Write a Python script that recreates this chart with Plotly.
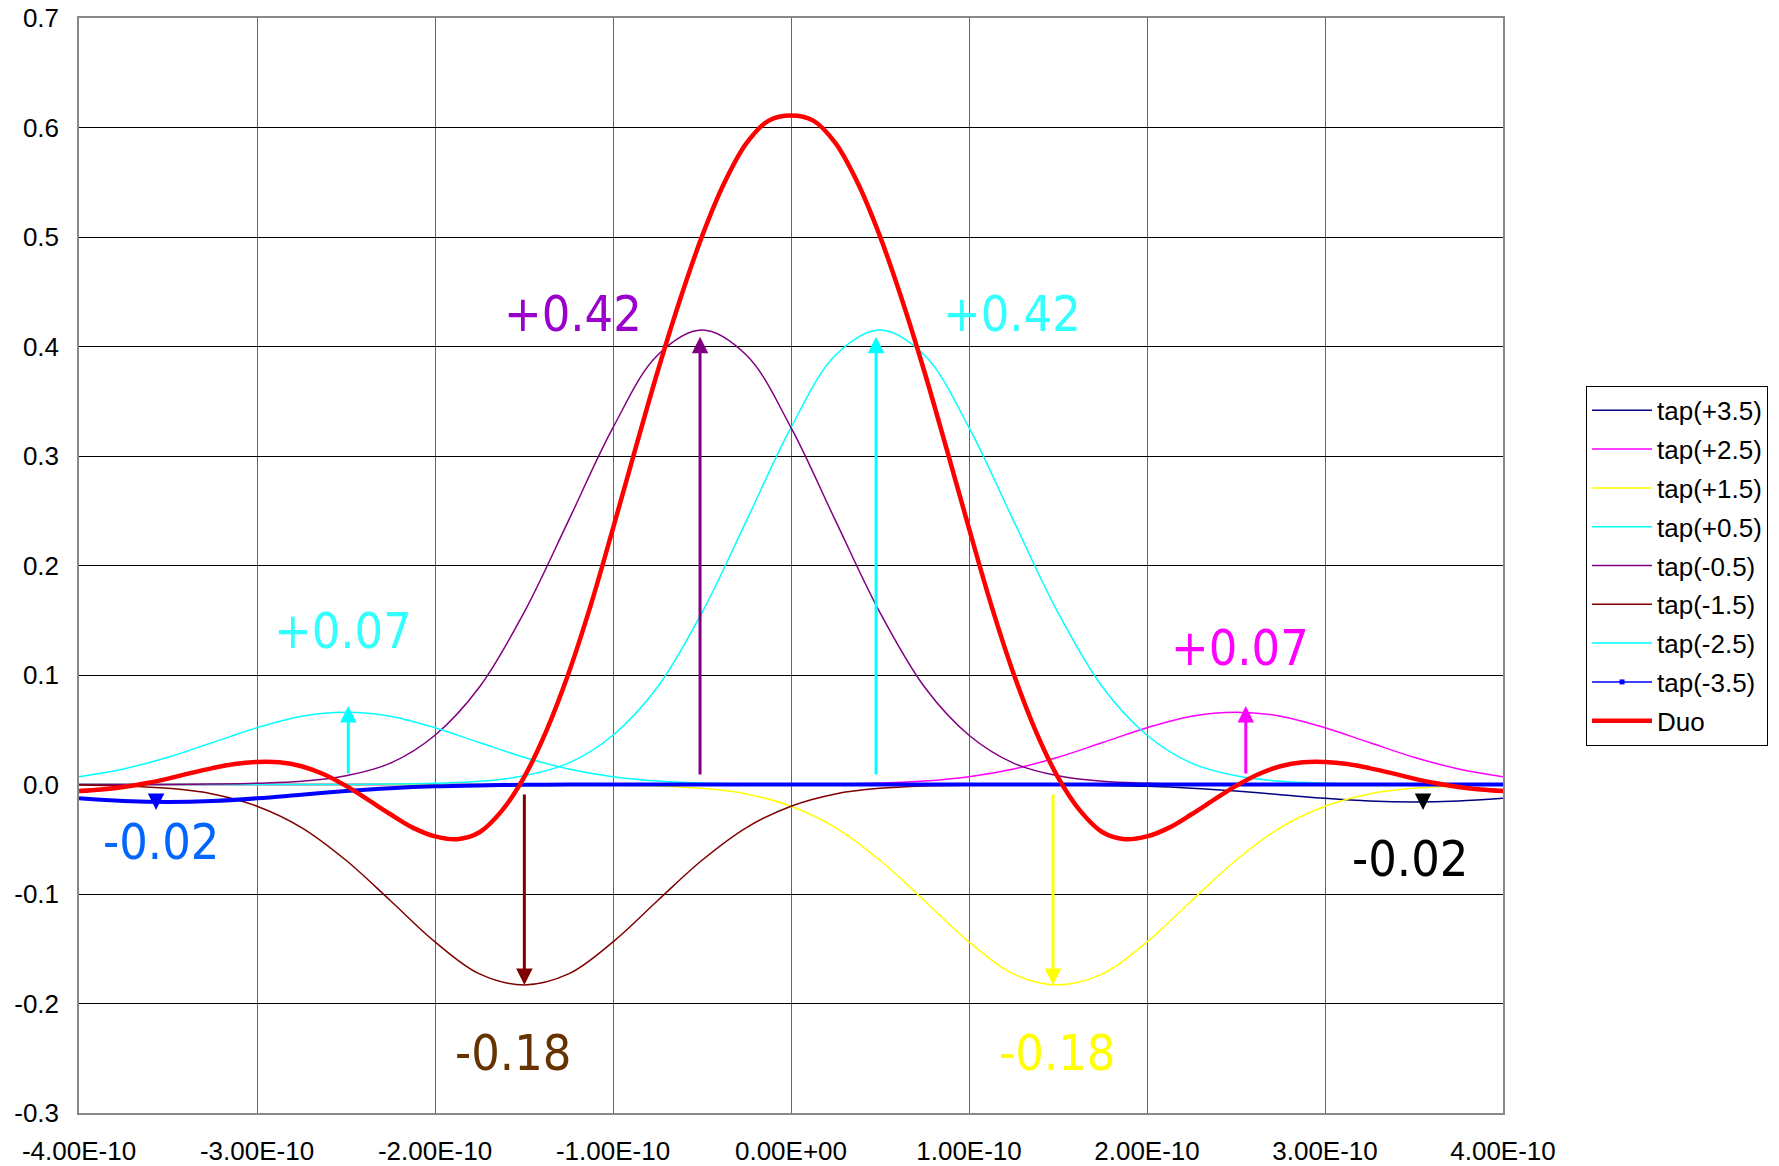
import plotly.graph_objects as go

# ---- data ----
time_s = [-4.00e-10, -3.75e-10, -3.50e-10, -3.25e-10, -3.00e-10, -2.75e-10, -2.50e-10, -2.25e-10,
          -2.00e-10, -1.75e-10, -1.50e-10, -1.25e-10, -1.00e-10, -0.75e-10, -0.50e-10, -0.25e-10,
          0.00e+00, 0.25e-10, 0.50e-10, 0.75e-10, 1.00e-10, 1.25e-10, 1.50e-10, 1.75e-10,
          2.00e-10, 2.25e-10, 2.50e-10, 2.75e-10, 3.00e-10, 3.25e-10, 3.50e-10, 3.75e-10, 4.00e-10]

tap_p35 = [0, 0, 0, 0, 0, 0, 0, 0, 0, 0, 0, 0, 0, 0, 0, 0, 0, 0, 0, 0, 0,
           -0.0001, -0.0003, -0.0008, -0.0017, -0.0034, -0.006, -0.0093, -0.0126, -0.0151, -0.016, -0.0151, -0.0126]
tap_p25 = [0, 0, 0, 0, 0, 0, 0, 0, 0, 0, 0, 0, 0, 0, 0,
           0.0001, 0.0002, 0.0005, 0.0013, 0.0031, 0.0071, 0.0142, 0.0249, 0.0383, 0.0518, 0.0624, 0.066,
           0.0624, 0.0518, 0.0383, 0.0249, 0.0142, 0.0071]
tap_p15 = [0, 0, 0, 0, 0, 0, 0, 0, 0, 0, 0,
           -0.0002, -0.0005, -0.0013, -0.0035, -0.0086, -0.0198, -0.0393, -0.0692, -0.1061, -0.1437, -0.173, -0.183,
           -0.173, -0.1437, -0.1061, -0.0692, -0.0393, -0.0198, -0.0086, -0.0035, -0.0013, -0.0005]
tap_p05 = [0, 0, 0, 0, 0, 0, 0,
           0.0004, 0.0012, 0.0029, 0.0079, 0.0195, 0.045, 0.089, 0.157, 0.241, 0.326, 0.392, 0.415,
           0.392, 0.326, 0.241, 0.157, 0.089, 0.045, 0.0195, 0.0079, 0.0029, 0.0012, 0.0004, 0, 0, 0]
tap_m05 = [0, 0, 0, 0.0004, 0.0012, 0.0029, 0.0079, 0.0195, 0.045, 0.089, 0.157, 0.241, 0.326, 0.392, 0.415,
           0.392, 0.326, 0.241, 0.157, 0.089, 0.045, 0.0195, 0.0079, 0.0029, 0.0012, 0.0004, 0, 0, 0, 0, 0, 0, 0]
tap_m15 = [-0.0005, -0.0013, -0.0035, -0.0086, -0.0198, -0.0393, -0.0692, -0.1061, -0.1437, -0.173, -0.183,
           -0.173, -0.1437, -0.1061, -0.0692, -0.0393, -0.0198, -0.0086, -0.0035, -0.0013, -0.0005, -0.0002,
           0, 0, 0, 0, 0, 0, 0, 0, 0, 0, 0]
tap_m25 = [0.0071, 0.0142, 0.0249, 0.0383, 0.0518, 0.0624, 0.066, 0.0624, 0.0518, 0.0383, 0.0249, 0.0142,
           0.0071, 0.0031, 0.0013, 0.0005, 0.0002, 0.0001, 0, 0, 0, 0, 0, 0, 0, 0, 0, 0, 0, 0, 0, 0, 0]
tap_m35 = [-0.0126, -0.0151, -0.016, -0.0151, -0.0126, -0.0093, -0.006, -0.0034, -0.0017, -0.0008, -0.0003,
           -0.0001, 0, 0, 0, 0, 0, 0, 0, 0, 0, 0, 0, 0, 0, 0, 0, 0, 0, 0, 0, 0, 0]

# Duo is read on a finer time grid
duo_time = [-4.000e-10, -3.875e-10, -3.750e-10, -3.625e-10, -3.500e-10, -3.375e-10, -3.250e-10, -3.125e-10,
            -3.000e-10, -2.875e-10, -2.750e-10, -2.625e-10, -2.500e-10, -2.375e-10, -2.250e-10, -2.125e-10,
            -2.000e-10, -1.875e-10, -1.750e-10, -1.625e-10, -1.500e-10, -1.375e-10, -1.250e-10, -1.125e-10,
            -1.000e-10, -0.875e-10, -0.750e-10, -0.625e-10, -0.500e-10, -0.375e-10, -0.250e-10, -0.125e-10,
            0.000e+00,
            0.125e-10, 0.250e-10, 0.375e-10, 0.500e-10, 0.625e-10, 0.750e-10, 0.875e-10, 1.000e-10,
            1.125e-10, 1.250e-10, 1.375e-10, 1.500e-10, 1.625e-10, 1.750e-10, 1.875e-10, 2.000e-10,
            2.125e-10, 2.250e-10, 2.375e-10, 2.500e-10, 2.625e-10, 2.750e-10, 2.875e-10, 3.000e-10,
            3.125e-10, 3.250e-10, 3.375e-10, 3.500e-10, 3.625e-10, 3.750e-10, 3.875e-10, 4.000e-10]
duo = [-0.006, -0.0046, -0.0022, 0.0011, 0.0054, 0.0104, 0.015, 0.0188,
       0.0206, 0.0203, 0.0167, 0.0094, -0.0013, -0.0141, -0.0272, -0.0394,
       -0.0474, -0.0499, -0.0436, -0.0241, 0.0065, 0.0488, 0.1014, 0.1638,
       0.2339, 0.3061, 0.3767, 0.442, 0.5006, 0.5493, 0.5857, 0.6063,
       0.611,
       0.6063, 0.5857, 0.5493, 0.5006, 0.442, 0.3767, 0.3061, 0.2339,
       0.1638, 0.1014, 0.0488, 0.0065, -0.0241, -0.0436, -0.0499, -0.0474,
       -0.0394, -0.0272, -0.0141, -0.0013, 0.0094, 0.0167, 0.0203, 0.0206,
       0.0188, 0.015, 0.0104, 0.0054, 0.0011, -0.0022, -0.0046, -0.006]

x_tick_vals = [-4e-10, -3e-10, -2e-10, -1e-10, 0.0, 1e-10, 2e-10, 3e-10, 4e-10]
x_tick_text = ["-4.00E-10", "-3.00E-10", "-2.00E-10", "-1.00E-10", "0.00E+00",
               "1.00E-10", "2.00E-10", "3.00E-10", "4.00E-10"]
y_tick_vals = [-0.3, -0.2, -0.1, 0.0, 0.1, 0.2, 0.3, 0.4, 0.5, 0.6, 0.7]
y_tick_text = ["-0.3", "-0.2", "-0.1", "0.0", "0.1", "0.2", "0.3", "0.4", "0.5", "0.6", "0.7"]

# value labels: text, x, y, colour
label_text = ["+0.42", "+0.42", "+0.07", "+0.07", "-0.02", "-0.02", "-0.18", "-0.18"]
label_x = [-1.225e-10, 1.242e-10, -2.517e-10, 2.522e-10, -3.539e-10, 3.478e-10, -1.562e-10, 1.494e-10]
label_y = [0.430, 0.430, 0.140, 0.125, -0.0525, -0.068, -0.245, -0.245]
label_color = ["#9900CC", "#33FFFF", "#33FFFF", "#FF00FF", "#0066FF", "#000000", "#663300", "#FFFF00"]

# arrows: x, tail y, tip y, colour
arrow_x = [-0.511e-10, 0.478e-10, -2.487e-10, 2.555e-10, -1.498e-10, 1.472e-10, -3.567e-10, 3.551e-10]
arrow_y0 = [0.0078, 0.0078, 0.0087, 0.0087, -0.0078, -0.0078, -0.0078, -0.0078]
arrow_y1 = [0.409, 0.409, 0.0717, 0.0717, -0.183, -0.183, -0.0233, -0.0233]
arrow_color = ["#800080", "#00FFFF", "#00FFFF", "#FF00FF", "#800000", "#FFFF00", "#0000FF", "#000000"]

series = [
    ("tap(+3.5)", tap_p35, "#000080", 1.5),
    ("tap(+2.5)", tap_p25, "#FF00FF", 1.5),
    ("tap(+1.5)", tap_p15, "#FFFF00", 1.5),
    ("tap(+0.5)", tap_p05, "#00FFFF", 1.5),
    ("tap(-0.5)", tap_m05, "#800080", 1.5),
    ("tap(-1.5)", tap_m15, "#800000", 1.5),
    ("tap(-2.5)", tap_m25, "#00FFFF", 1.5),
]

fig = go.Figure()
for name, vals, color, w in series:
    fig.add_trace(go.Scatter(x=time_s, y=vals, mode="lines", name=name, legendgroup=name,
                             line=dict(color=color, width=w, shape="spline")))
fig.add_trace(go.Scatter(x=time_s, y=tap_m35, mode="lines", name="tap(-3.5)", showlegend=False,
                         legendgroup="tap(-3.5)",
                         line=dict(color="#0000FF", width=4, shape="spline")))
fig.add_trace(go.Scatter(x=[None], y=[None], mode="lines+markers", name="tap(-3.5)",
                         legendgroup="tap(-3.5)",
                         line=dict(color="#0000FF", width=1.5),
                         marker=dict(symbol="square", size=5, color="#0000FF")))
fig.add_trace(go.Scatter(x=duo_time, y=duo, mode="lines", name="Duo", legendgroup="Duo",
                         line=dict(color="#FF0000", width=4.5, shape="spline")))

label_font = "DejaVu Sans Condensed, Liberation Sans Narrow, Arial Narrow, sans-serif"
annotations = []
for t, x, y, c in zip(label_text, label_x, label_y, label_color):
    annotations.append(dict(text=t, x=x, y=y, xref="x", yref="y", showarrow=False,
                            font=dict(family=label_font, size=50, color=c)))
for x, y0, y1, c in zip(arrow_x, arrow_y0, arrow_y1, arrow_color):
    annotations.append(dict(text="", x=x, y=y1, ax=x, ay=y0, xref="x", yref="y", axref="x", ayref="y",
                            showarrow=True, arrowhead=2, arrowsize=1.1, arrowwidth=3, arrowcolor=c,
                            standoff=0, startstandoff=0))

fig.update_layout(
    width=1779, height=1166,
    margin=dict(l=79, r=276, t=18, b=53, pad=0, autoexpand=False),
    paper_bgcolor="white", plot_bgcolor="white",
    font=dict(family="Liberation Sans, Arial, sans-serif", size=26, color="black"),
    showlegend=True,
    legend=dict(x=1.0583, y=0.664, xanchor="left", yanchor="top",
                bgcolor="white", bordercolor="#000000", borderwidth=1,
                font=dict(size=26), itemwidth=60, tracegroupgap=2, traceorder="grouped"),
    annotations=annotations,
)
fig.update_xaxes(range=[-4e-10, 4e-10], tickmode="array", tickvals=x_tick_vals, ticktext=x_tick_text,
                 showgrid=True, gridcolor="#666666", gridwidth=1, zeroline=False, automargin=False,
                 showline=True, linecolor="#888888", linewidth=1.5, mirror=True, ticks="",
                 ticklabelstandoff=14)
fig.update_yaxes(range=[-0.3, 0.7], tickmode="array", tickvals=y_tick_vals, ticktext=y_tick_text,
                 showgrid=True, gridcolor="#000000", gridwidth=1, zeroline=False, automargin=False,
                 showline=True, linecolor="#888888", linewidth=1.5, mirror=True, ticks="",
                 ticklabelstandoff=13)

fig.write_html("out.html", config={"displayModeBar": False},
               post_script="document.body.style.margin='0';")
